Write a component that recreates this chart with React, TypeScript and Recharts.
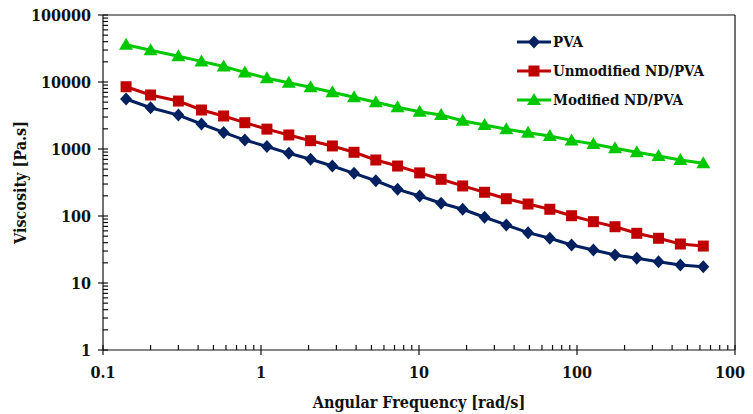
import React from 'react';
import { LineChart, Line, XAxis, YAxis, Legend, ReferenceLine } from 'recharts';

// angular frequency [rad/s]
const frequency = [
  0.14, 0.2, 0.3, 0.42, 0.58, 0.79, 1.09, 1.5, 2.06, 2.83, 3.88, 5.33, 7.32, 10.1,
  13.8, 18.9, 26, 35.7, 49, 67.3, 92.4, 127, 174, 239, 328, 451, 630,
];

// viscosity [Pa.s]
const pva = [
  5570, 4130, 3210, 2360, 1770, 1360, 1090, 862, 702, 557, 433, 336, 250, 199,
  155, 126, 95.7, 73.5, 56.4, 46.5, 36.9, 31.1, 26.2, 23.4, 20.8, 18.6, 17.5,
];
const unmodified = [
  8500, 6400, 5200, 3820, 3110, 2470, 1980, 1620, 1330, 1110, 893, 685, 557, 440,
  353, 281, 226, 181, 151, 126, 101, 82.3, 69.2, 55.2, 46.5, 38.2, 35.6,
];
const modified = [
  36000, 29800, 24300, 20300, 17000, 13900, 11400, 9770, 8340, 7020, 5910, 4980, 4190, 3600,
  3210, 2640, 2280, 1970, 1750, 1560, 1345, 1190, 1024, 893, 787, 685, 615,
];

const xMajor = [0.1, 1, 10, 100, 1000];
const yMajor = [1, 10, 100, 1000, 10000, 100000];
const minorSteps = [2, 3, 4, 5, 6, 7, 8, 9];

const xTicks = [
  ...xMajor.slice(0, -1).flatMap((d) => [d, ...minorSteps.map((m) => d * m)]),
  1000,
];
const yTicks = [
  ...yMajor.slice(0, -1).flatMap((d) => [d, ...minorSteps.map((m) => d * m)]),
  100000,
];

const rows = frequency.map((f, i) => ({
  f,
  pva: pva[i],
  unmodified: unmodified[i],
  modified: modified[i],
}));

const BLUE = '#002060';
const RED = '#C00000';
const GREEN = '#00C800';
const INK = '#111';
const FONT = "'DejaVu Serif Condensed', 'DejaVu Serif', serif";

const Diamond = ({ cx, cy, fill }: any) => (
  <path d={`M${cx},${cy - 6.5}L${cx + 6},${cy}L${cx},${cy + 6.5}L${cx - 6},${cy}Z`} fill={fill} />
);
const Square = ({ cx, cy, fill }: any) => (
  <rect x={cx - 5.5} y={cy - 5.5} width={11} height={11} fill={fill} />
);
const Triangle = ({ cx, cy, fill }: any) => (
  <path d={`M${cx},${cy - 7}L${cx + 7},${cy + 5}L${cx - 7},${cy + 5}Z`} fill={fill} />
);

const XTick = ({ x, y, payload }: any) => {
  const v = payload.value;
  const major = xMajor.includes(v);
  return (
    <g>
      <line x1={x} x2={x} y1={y - 5} y2={major ? y + 5 : y} stroke={INK} strokeWidth={1.2} />
      {major && (
        <text x={x} y={y + 28} textAnchor="middle" style={{ fontFamily: FONT }} fontSize={16} fontWeight="bold" fill={INK}>
          {String(v)}
        </text>
      )}
    </g>
  );
};

const YTick = ({ x, y, payload }: any) => {
  const v = payload.value;
  const major = yMajor.includes(v);
  return (
    <g>
      <line x1={major ? x - 5 : x} x2={x + 5} y1={y} y2={y} stroke={INK} strokeWidth={1.2} />
      {major && (
        <text x={x - 12} y={y + 6} textAnchor="end" style={{ fontFamily: FONT }} fontSize={16} fontWeight="bold" fill={INK}>
          {String(v)}
        </text>
      )}
    </g>
  );
};

const legendItems = [
  { name: 'PVA', color: BLUE, Marker: Diamond },
  { name: 'Unmodified ND/PVA', color: RED, Marker: Square },
  { name: 'Modified ND/PVA', color: GREEN, Marker: Triangle },
];

const LegendBox = () => (
  <div style={{ fontFamily: FONT, fontSize: 15, fontWeight: 'bold', color: INK }}>
    {legendItems.map(({ name, color, Marker }) => (
      <div key={name} style={{ display: 'flex', alignItems: 'center', height: 29 }}>
        <svg width={38} height={16}>
          <line x1={2} x2={36} y1={8} y2={8} stroke={color} strokeWidth={3} />
          <Marker cx={19} cy={8} fill={color} />
        </svg>
        <span>{name}</span>
      </div>
    ))}
  </div>
);

export default function App() {
  return (
    <div style={{ margin: '-8px 0 0 -8px', width: 753, height: 414, background: '#fff', fontFamily: FONT }}>
      <LineChart width={753} height={414} data={rows} margin={{ top: 15, right: 18, left: 0, bottom: 0 }}>
        <XAxis
          dataKey="f"
          type="number"
          scale="log"
          domain={[0.1, 1000]}
          allowDataOverflow
          ticks={xTicks}
          interval={0}
          tickSize={0}
          tickMargin={0}
          tickLine={false}
          tick={<XTick />}
          height={64}
          axisLine={{ stroke: INK, strokeWidth: 1.2 }}
          label={{
            value: 'Angular  Frequency [rad/s]',
            position: 'insideBottom',
            offset: 6,
            style: { fontFamily: FONT, fontSize: 16, fontWeight: 'bold', fill: INK },
          }}
        />
        <YAxis
          type="number"
          scale="log"
          domain={[1, 100000]}
          allowDataOverflow
          ticks={yTicks}
          interval={0}
          tickSize={0}
          tickMargin={0}
          tickLine={false}
          tick={<YTick />}
          width={103}
          axisLine={{ stroke: INK, strokeWidth: 1.2 }}
          label={{
            value: 'Viscosity [Pa.s]',
            angle: -90,
            position: 'insideLeft',
            offset: 20,
            style: { fontFamily: FONT, fontSize: 16, fontWeight: 'bold', fill: INK, textAnchor: 'middle' },
          }}
        />
        <ReferenceLine y={100000} stroke={INK} strokeWidth={1.2} />
        <ReferenceLine x={1000} stroke={INK} strokeWidth={1.2} />
        <Legend
          layout="vertical"
          align="center"
          verticalAlign="middle"
          content={<LegendBox />}
          wrapperStyle={{ top: 27, left: 515, width: 230 }}
        />
        <Line
          dataKey="pva"
          name="PVA"
          stroke={BLUE}
          strokeWidth={3}
          isAnimationActive={false}
          dot={(p: any) => <Diamond key={p.index} cx={p.cx} cy={p.cy} fill={BLUE} />}
        />
        <Line
          dataKey="unmodified"
          name="Unmodified ND/PVA"
          stroke={RED}
          strokeWidth={3}
          isAnimationActive={false}
          dot={(p: any) => <Square key={p.index} cx={p.cx} cy={p.cy} fill={RED} />}
        />
        <Line
          dataKey="modified"
          name="Modified ND/PVA"
          stroke={GREEN}
          strokeWidth={3}
          isAnimationActive={false}
          dot={(p: any) => <Triangle key={p.index} cx={p.cx} cy={p.cy} fill={GREEN} />}
        />
      </LineChart>
    </div>
  );
}
